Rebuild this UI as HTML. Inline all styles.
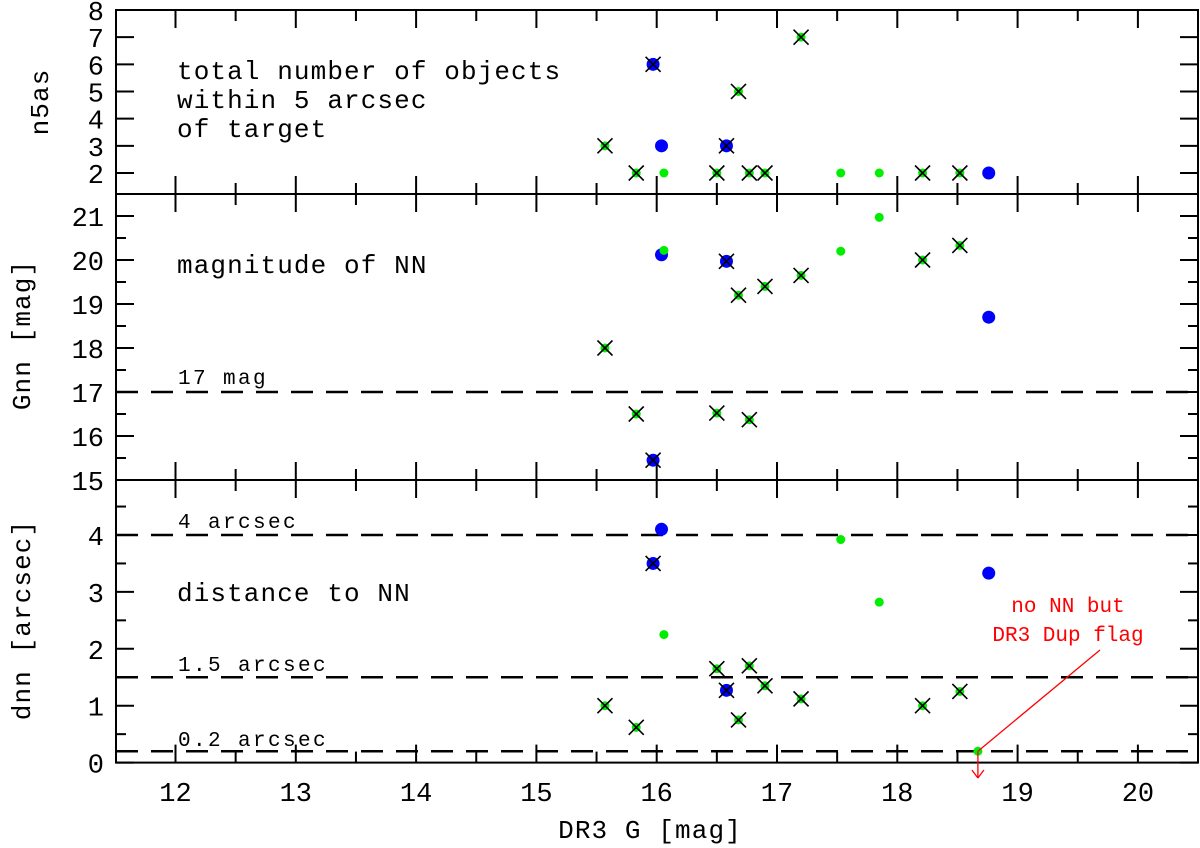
<!DOCTYPE html>
<html><head><meta charset="utf-8"><style>
html,body{margin:0;padding:0;background:#fff;}
svg{display:block;font-family:"Liberation Mono",monospace;}
</style></head><body>
<svg id="chart" width="1200" height="848" viewBox="0 0 1200 848" xmlns="http://www.w3.org/2000/svg"></svg>
<script>
const objG    = [15.57,15.83,15.97,16.04,16.06,16.50,16.58,16.68,16.77,16.90,17.20,17.53,17.85,18.21,18.52,18.76];
const objType = ['x','x','bx','b','g','x','bx','x','x','x','x','g','g','x','x','b'];
const objN5as = [3,2,6,3,2,2,3,5,2,2,7,2,2,2,2,2];
const objGnn  = [18.0,16.5,15.45,20.12,20.22,16.52,19.97,19.2,16.37,19.4,19.65,20.2,20.97,20.0,20.33,18.7];
const objDnn  = [1.0,0.62,3.5,4.1,2.25,1.65,1.27,0.75,1.7,1.35,1.12,3.92,2.82,1.0,1.25,3.33];
const extraG = [18.67];
const extraDnn = [0.2];
const xTicks = [12,13,14,15,16,17,18,19,20];
const n5Ticks = [2,3,4,5,6,7,8];
const gnnTicks = [15,16,17,18,19,20,21];
const dnnTicks = [0,1,2,3,4];

const NS='http://www.w3.org/2000/svg';
const svg=document.getElementById('chart');
const L=116,R=1198;
const xs=v=>175.5+(v-12)*120.3;
const yTop=v=>173-(v-2)*27.17;
const yMid=v=>480-(v-15)*44;
const yBot=v=>762.6-v*56.9;
function el(tag,attrs,text){const e=document.createElementNS(NS,tag);for(const k in attrs)e.setAttribute(k,attrs[k]);if(text!==undefined)e.textContent=text;svg.appendChild(e);return e;}
function line(x1,y1,x2,y2,extra){return el('line',Object.assign({x1,y1,x2,y2,stroke:'#000','stroke-width':2},extra||{}));}

const panels=[
 {top:10,bot:194,ys:yTop,ticks:n5Ticks,minor:[],name:'n5as'},
 {top:194,bot:480,ys:yMid,ticks:gnnTicks,minor:[15.5,16.5,17.5,18.5,19.5,20.5,21.5],name:'gnn'},
 {top:480,bot:762.6,ys:yBot,ticks:dnnTicks,minor:[0.5,1.5,2.5,3.5,4.5],name:'dnn'}
];
panels.forEach(p=>{
 const r=el('rect',{x:L,y:p.top,width:R-L,height:p.bot-p.top,fill:'none',stroke:'#000','stroke-width':2});
 
 
 for(let v=11.5;v<=20.5;v+=0.5){
  const x=xs(v); if(x<L||x>R) continue;
  const len=(v%1===0)?18:11;
  line(x,p.top,x,p.top+len); line(x,p.bot,x,p.bot-len);
 }
 p.ticks.forEach(v=>{const y=p.ys(v); if(y<p.top-1||y>p.bot+1)return;
  line(L,y,L+18,y); line(R,y,R-18,y);
  const t=el('text',{x:L-12,y:y+10,'text-anchor':'end','font-size':27,fill:'#000'},String(v));
  
  
 });
 p.minor.forEach(v=>{const y=p.ys(v); if(y<p.top||y>p.bot)return; line(L,y,L+10,y); line(R,y,R-10,y);});
});
xTicks.forEach(v=>{const t=el('text',{x:xs(v),y:801,'text-anchor':'middle','font-size':27,fill:'#000'},String(v));
 
 });

[[yMid(17),'gnn-17-line'],[yBot(4),'dnn-4-line'],[yBot(1.5),'dnn-1.5-line'],[yBot(0.2),'dnn-0.2-line']].forEach(([y,n])=>{
 const d=line(L,y,R,y,{'stroke-dasharray':'22,13','stroke-width':2.5});
 
 
});

function mark(x,y,type){
 if(type==='g'){const c=el('circle',{cx:x,cy:y,r:4.5,fill:'#00ee00'});return;}
 if(type==='b'||type==='bx'){const c=el('circle',{cx:x,cy:y,r:6.5,fill:'#0000ff'});}
 if(type==='x'){const c=el('circle',{cx:x,cy:y,r:4.5,fill:'#00ee00'});}
 if(type==='x'||type==='bx'){const s=7.5;
  line(x-s,y-s,x+s,y+s,{'stroke-width':1.6});line(x-s,y+s,x+s,y-s,{'stroke-width':1.6});}
}
objG.forEach((g,i)=>{
 const x=xs(g);
 mark(x,yTop(objN5as[i]),objType[i]);
 mark(x,yMid(objGnn[i]),objType[i]);
 mark(x,yBot(objDnn[i]),objType[i]);
});
extraG.forEach((g,i)=>mark(xs(g),yBot(extraDnn[i]),'g'));

function txt(x,y,s,size,name,extra){const t=el('text',Object.assign({x,y,'font-size':size,fill:'#000'},extra||{}),s);return t;}
const big={'letter-spacing':'1.1'};
txt(177,79,'total number of objects',26,'annotation-n5as',big);
txt(177,108,'within 5 arcsec',26,'annotation-n5as-2',big);
txt(177,137,'of target',26,'annotation-n5as-3',big);
txt(177,273,'magnitude of NN',26,'annotation-gnn',big);
const sm={'letter-spacing':'2.4'};
txt(178,384,'17 mag',21,'label-17-mag',sm);
txt(178,528,'4 arcsec',21,'label-4-arcsec',sm);
txt(177,601,'distance to NN',26,'annotation-dnn',big);
txt(178,671,'1.5 arcsec',21,'label-1.5-arcsec',sm);
txt(178,746,'0.2 arcsec',21,'label-0.2-arcsec',sm);
txt(1068,612,'no NN but',21,'red-note-1',{fill:'#ff0000','text-anchor':'middle'});
txt(1068,641,'DR3 Dup flag',21,'red-note-2',{fill:'#ff0000','text-anchor':'middle'});
const ax=xs(extraG[0]);
line(1100,650,ax,yBot(0.2),{stroke:'#ff0000','stroke-width':1.3});
line(ax,yBot(0.2),ax,778,{stroke:'#ff0000','stroke-width':1.3});
line(ax-6,770,ax,778,{stroke:'#ff0000','stroke-width':1.3});
line(ax+6,770,ax,778,{stroke:'#ff0000','stroke-width':1.3});

txt(650,838,'DR3 G [mag]',26,'x-axis-title',Object.assign({'text-anchor':'middle'},big));
txt(0,0,'n5as',26,'y-axis-title-n5as',Object.assign({'text-anchor':'middle',transform:'translate(48,102) rotate(-90)'},big));
txt(0,0,'Gnn [mag]',26,'y-axis-title-gnn',Object.assign({'text-anchor':'middle',transform:'translate(30,335) rotate(-90)'},big));
txt(0,0,'dnn [arcsec]',26,'y-axis-title-dnn',Object.assign({'text-anchor':'middle',transform:'translate(30,620) rotate(-90)'},big));
</script>
</body></html>
